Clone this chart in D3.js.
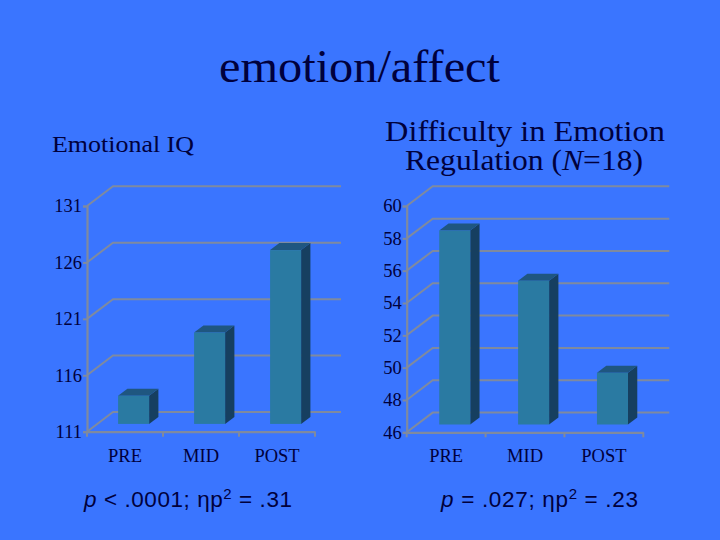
<!DOCTYPE html>
<html><head><meta charset="utf-8">
<script src="https://cdn.jsdelivr.net/npm/d3@7"></script>
<style>html,body{margin:0;padding:0;background:#3a75ff}svg{display:block}</style></head>
<body><svg id="c" width="720" height="540"></svg>
<script>
const categories = ["PRE","MID","POST"];
const iqValues = [113.5,119.1,126.4];
const iqTicks = [111,116,121,126,131];
const derValues = [58,54.9,49.2];
const derTicks = [46,48,50,52,54,56,58,60];
const BG="#3a75ff",GRID="#7f8a9f",INK="#00003c",FRONT="#2a7aa2",TOP="#1f5680",SIDE="#163f60";
const SERIF="'Liberation Serif','Times New Roman',serif";
const svg=d3.select("#c");
svg.append("rect").attr("width",720).attr("height",540).attr("fill",BG);

function panel(o){
  const g=svg.append("g");
  const x=d3.scaleBand().domain(categories).range([o.x0,o.x1]);
  const y=d3.scaleLinear().domain(o.domain).range([o.y0,o.y1]);
  const dx=26,dy=-19.7;
  g.selectAll(".d").data(o.ticks).enter().append("path").attr("fill","none").attr("stroke",GRID).attr("stroke-width",2)
    .attr("d",t=>`M${o.x0},${y(t)}L${o.x0+dx},${y(t)+dy}H${o.x1+dx}`);
  const ya=g.append("g").attr("transform",`translate(${o.x0},0)`).call(d3.axisLeft(y).tickValues(o.ticks).tickSize(4).tickPadding(1));
  const xa=g.append("g").attr("transform",`translate(0,${o.y0})`).call(d3.axisBottom(x).tickSize(0).tickPadding(o.labPad));
  [ya,xa].forEach(a=>{a.select(".domain").attr("stroke",GRID).attr("stroke-width",2.2);
    a.selectAll("line").attr("stroke",GRID).attr("stroke-width",2);
    a.selectAll("text").attr("fill",INK).attr("font-family",SERIF).attr("font-size",18.5);});
  xa.selectAll("text").attr("font-size",18.5);
  g.selectAll(".t").data(d3.range(categories.length+1)).enter().append("line")
    .attr("x1",i=>o.x0+i*x.step()).attr("x2",i=>o.x0+i*x.step()).attr("y1",o.y0).attr("y2",o.y0+5)
    .attr("stroke",GRID).attr("stroke-width",2);
  const bw=31,bdx=9.3,bdy=-7,shiftX=8.6,shiftY=-7.8;
  const bars=g.selectAll(".b").data(o.values).enter().append("g");
  const L=(d,i)=>x(categories[i])+x.step()/2+shiftX-bw/2;
  const T=d=>y(d)+shiftY, B=o.y0+shiftY;
  bars.append("path").attr("fill",SIDE)
    .attr("d",(d,i)=>`M${L(d,i)+bw},${T(d)}l${bdx},${bdy}V${B+bdy}l${-bdx},${-bdy}Z`);
  bars.append("path").attr("fill",TOP)
    .attr("d",(d,i)=>`M${L(d,i)},${T(d)}l${bdx},${bdy}h${bw}l${-bdx},${-bdy}Z`);
  bars.append("rect").attr("fill",FRONT).attr("x",(d,i)=>L(d,i)).attr("y",T).attr("width",bw).attr("height",d=>B-T(d));
}
panel({x0:87,x1:315,y0:431.7,y1:206,domain:[111,131],ticks:iqTicks,values:iqValues,labPad:17});
panel({x0:406.7,x1:643.3,y0:432.3,y1:206,domain:[46,60],ticks:derTicks,values:derValues,labPad:17});

function txt(s,x,y,size,anchor,fam,len){
  const t=svg.append("text").attr("x",x).attr("y",y).attr("font-size",size).attr("text-anchor",anchor||"start")
    .attr("font-family",fam||SERIF).attr("fill",INK);
  if(s)t.text(s);
  if(len)t.attr("textLength",len).attr("lengthAdjust","spacingAndGlyphs");
  return t;
}
txt("emotion/affect",219,82,47,"start",SERIF,281);
txt("Emotional IQ",52,152,24,"start",SERIF,142);
txt("Difficulty in Emotion",385,141,29,"start",SERIF,280);
const r=txt("",405,170,29,"start",SERIF,238);
r.append("tspan").text("Regulation (");
r.append("tspan").attr("font-style","italic").text("N");
r.append("tspan").text("=18)");
function stat(x,len,parts){
  const t=svg.append("text").attr("x",x).attr("y",507).attr("font-family","'Liberation Sans',Arial,sans-serif").attr("font-size",22.5).attr("fill",INK)
    .attr("textLength",len).attr("lengthAdjust","spacing");
  parts.forEach(p=>{const s=t.append("tspan").text(p.t);
    if(p.i)s.attr("font-style","italic");
    if(p.sup)s.attr("font-size",15).attr("dy",-8);
    if(p.after)s.attr("dy",8);});
}
stat(84,208,[{t:"p",i:1},{t:" < .0001; ηp"},{t:"2",sup:1},{t:" = .31",after:1}]);
stat(441,197,[{t:"p",i:1},{t:" = .027; ηp"},{t:"2",sup:1},{t:" = .23",after:1}]);
</script></body></html>
